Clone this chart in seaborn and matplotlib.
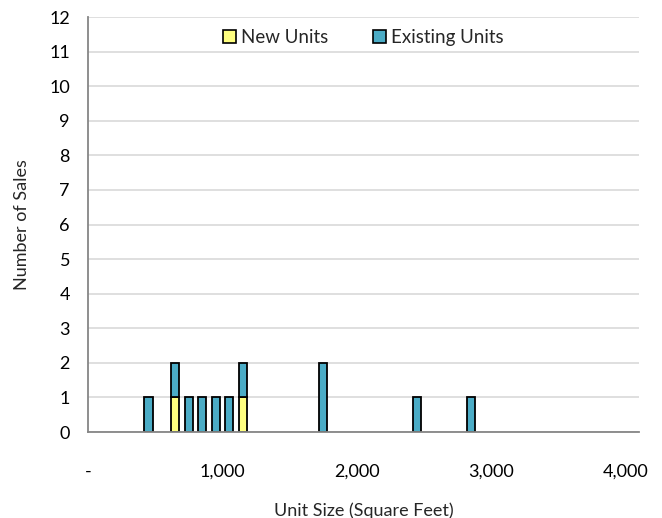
import matplotlib
matplotlib.use("Agg")
import matplotlib.pyplot as plt
from matplotlib.patches import Patch
from matplotlib.ticker import MultipleLocator, FuncFormatter
import seaborn as sns
import pandas as pd

# Sales counts by unit size, in 100 sq ft bins (bin midpoints)
bin_centers = [450, 650, 750, 850, 950, 1050, 1150, 1750, 2450, 2850]
new_units = [0, 1, 0, 0, 0, 0, 1, 0, 0, 0]
existing_units = [1, 1, 1, 1, 1, 1, 1, 2, 1, 1]
series_names = ["New Units", "Existing Units"]
series_colors = ["#FFFF80", "#4BACC6"]

df = pd.concat([
    pd.DataFrame({"size": bin_centers, "count": new_units, "type": series_names[0]}),
    pd.DataFrame({"size": bin_centers, "count": existing_units, "type": series_names[1]}),
], ignore_index=True)

sns.set_theme(style="white")
plt.rcParams["font.family"] = ["Lato", "DejaVu Sans"]

fig = plt.figure(figsize=(6.62, 5.18), dpi=100)
ax = fig.add_axes([0.133, 0.166, 0.832, 0.801])

# light gridlines behind the bars
ax.set_axisbelow(True)
ax.yaxis.grid(True, color="#D9D9D9", linewidth=1.2)

# seaborn stacks the last hue level at the bottom, so list New Units last
stack_order = series_names[::-1]
stack_palette = dict(zip(series_names, series_colors))
sns.histplot(
    data=df, x="size", weights="count", hue="type", hue_order=stack_order,
    multiple="stack", binwidth=100, binrange=(0, 4100), shrink=0.6,
    palette=stack_palette, alpha=1, edgecolor="black", linewidth=1.3,
    legend=False, ax=ax,
)
# drop empty bins so they leave no outline on the baseline
for p in list(ax.patches):
    if p.get_height() == 0:
        p.remove()

ax.set_xlim(0, 4100)
ax.set_ylim(0, 12)
ax.set_yticks(range(0, 13))
ax.xaxis.set_major_locator(MultipleLocator(500))

def fmt_x(v, pos):
    if v == 0:
        return "-"
    if v % 1000 == 0:
        return f"{int(v):,}"
    return ""

ax.xaxis.set_major_formatter(FuncFormatter(fmt_x))

for side in ("top", "right"):
    ax.spines[side].set_visible(False)
for side in ("left", "bottom"):
    ax.spines[side].set_color("#868686")
    ax.spines[side].set_linewidth(1.3)

ax.tick_params(axis="both", which="major", direction="out", length=5,
               width=1.2, color="#868686", labelsize=13, labelcolor="black")
ax.tick_params(axis="x", pad=18)
ax.tick_params(axis="y", pad=8)

ax.set_xlabel("Unit Size (Square Feet)", fontsize=13, labelpad=16)
ax.set_ylabel("Number of Sales", fontsize=13, labelpad=14)

handles = [Patch(facecolor=c, edgecolor="black", linewidth=1.2) for c in series_colors]
ax.legend(handles, series_names, loc="upper center", bbox_to_anchor=(0.5, 1.0),
          ncol=2, frameon=False, fontsize=13.5, handlelength=0.7, handleheight=0.7,
          handletextpad=0.25, columnspacing=2.4, borderaxespad=0.25)

fig.savefig("out.png", dpi=100)
